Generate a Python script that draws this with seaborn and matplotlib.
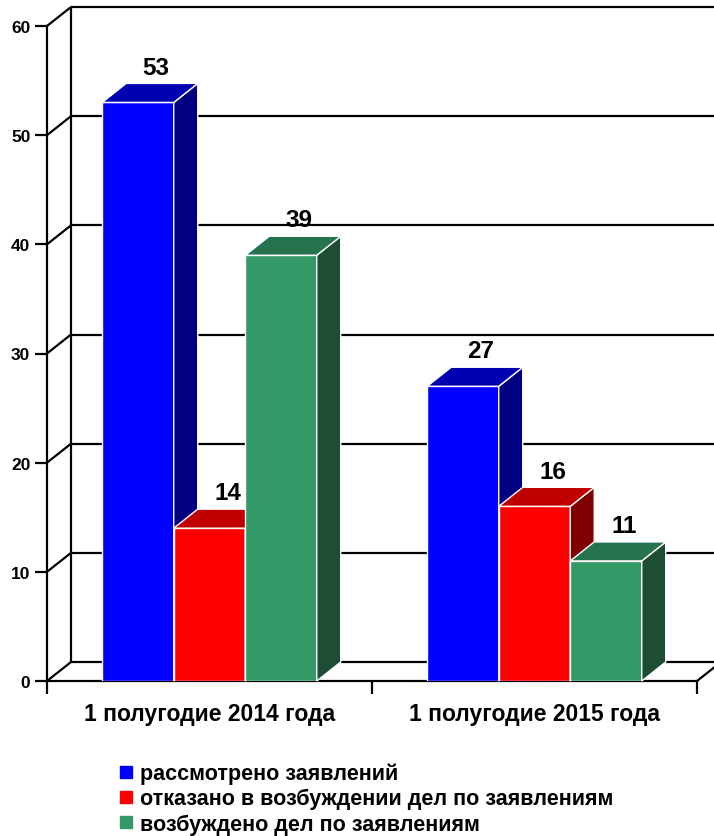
import matplotlib
matplotlib.use("Agg")
import matplotlib.pyplot as plt
import matplotlib.colors as mcolors
import seaborn as sns
import pandas as pd
from matplotlib.patches import Polygon
from matplotlib.lines import Line2D

periods = ["1 полугодие 2014 года", "1 полугодие 2015 года"]
series = ["рассмотрено заявлений",
          "отказано в возбуждении дел по заявлениям",
          "возбуждено дел по заявлениям"]
considered = [53, 27]
refused = [14, 16]
opened = [39, 11]
yticks = [0, 10, 20, 30, 40, 50, 60]

front_colors = ["#0000FF", "#FF0000", "#339966"]
top_colors = ["#0000B0", "#C00000", "#267350"]
side_colors = ["#000080", "#800000", "#1E4D36"]

df = pd.DataFrame({
    "period": periods * 3,
    "series": [s for s in series for _ in periods],
    "value": considered + refused + opened,
})

sns.set_theme(style="white")
plt.rcParams["font.family"] = ["Liberation Sans", "DejaVu Sans"]
plt.rcParams["font.weight"] = "bold"
plt.rcParams["text.color"] = "black"
plt.rcParams["xtick.labelcolor"] = "black"
plt.rcParams["ytick.labelcolor"] = "black"

W, H = 714, 837
fig = plt.figure(figsize=(W / 100, H / 100), dpi=100)
ax = fig.add_axes([47 / W, 155 / H, 650 / W, 655 / H])

sns.barplot(data=df, x="period", y="value", hue="series", hue_order=series,
            palette=front_colors, width=0.66, saturation=1, edgecolor="white",
            linewidth=1, legend=False, ax=ax)

ax.set_xlim(-0.5, 1.5)
ax.set_ylim(0, 60)

# depth of the fake 3d, in pixels -> data units
ddx = 24 / 650 * 2
ddy = 19 / 655 * 60

# back wall + side wall grid
wall = dict(color="black", lw=1.6, clip_on=False, zorder=1, solid_capstyle="butt")
ax.plot([-0.5 + ddx, -0.5 + ddx], [ddy, 60 + ddy], **wall)
for y in yticks:
    ax.plot([-0.5, -0.5 + ddx], [y, y + ddy], **wall)
    ax.plot([-0.5 + ddx, 1.7], [y + ddy, y + ddy], **wall)
ax.plot([1.5, 1.5 + ddx], [0, ddy], **wall)

# side and top faces of the bars
bars = sorted([p for p in ax.patches if p.get_height() > 0], key=lambda p: p.get_x())
hexes = [mcolors.to_hex(c).lower() for c in front_colors]
for k, p in enumerate(bars):
    x0, w, h = p.get_x(), p.get_width(), p.get_height()
    j = hexes.index(mcolors.to_hex(p.get_facecolor()).lower())
    z = 3 + k * 0.1
    p.set_zorder(z)
    side = Polygon([(x0 + w, 0), (x0 + w + ddx, ddy), (x0 + w + ddx, h + ddy), (x0 + w, h)],
                   closed=True, facecolor=side_colors[j], edgecolor="white", lw=1,
                   zorder=z + 0.01, clip_on=False)
    top = Polygon([(x0, h), (x0 + w, h), (x0 + w + ddx, h + ddy), (x0 + ddx, h + ddy)],
                  closed=True, facecolor=top_colors[j], edgecolor="white", lw=1,
                  zorder=z + 0.02, clip_on=False)
    ax.add_patch(side)
    ax.add_patch(top)
    ax.text(x0 + w / 2 + ddx * 0.75, h + ddy + 0.9, f"{h:.0f}", ha="center", va="baseline",
            fontsize=17.5, fontweight="bold", color="black", zorder=10)

sns.despine(ax=ax, top=True, right=True)
for s in ["left", "bottom"]:
    ax.spines[s].set_color("black")
    ax.spines[s].set_linewidth(1.6)
    ax.spines[s].set_zorder(2)

ax.set_yticks(yticks)
ax.set_yticklabels([str(v) for v in yticks], fontsize=12.5, fontweight="bold")
ax.set_xticks([-0.5, 0.5, 1.5])
ax.set_xticklabels(["", "", ""])
ax.set_xticks([0, 1], minor=True)
ax.set_xticklabels(periods, minor=True, fontsize=16.5, fontweight="bold")
ax.tick_params(axis="both", which="major", direction="out", length=9, width=1.6,
               color="black", labelcolor="black", left=True, bottom=True, pad=3)
ax.tick_params(axis="x", which="minor", length=0, pad=15, labelcolor="black")
ax.set_xlabel("")
ax.set_ylabel("")
ax.grid(False)

handles = [Line2D([], [], marker="s", ls="", markersize=8, color=c) for c in front_colors]
fig.legend(handles, series, loc="upper left", bbox_to_anchor=(107 / W, 1 - 753 / H),
           frameon=False, handlelength=0.8, handletextpad=0.25, labelcolor="black",
           labelspacing=0.18, borderpad=0, prop={"weight": "bold", "size": 15.5})

fig.savefig("out.png", dpi=100)
